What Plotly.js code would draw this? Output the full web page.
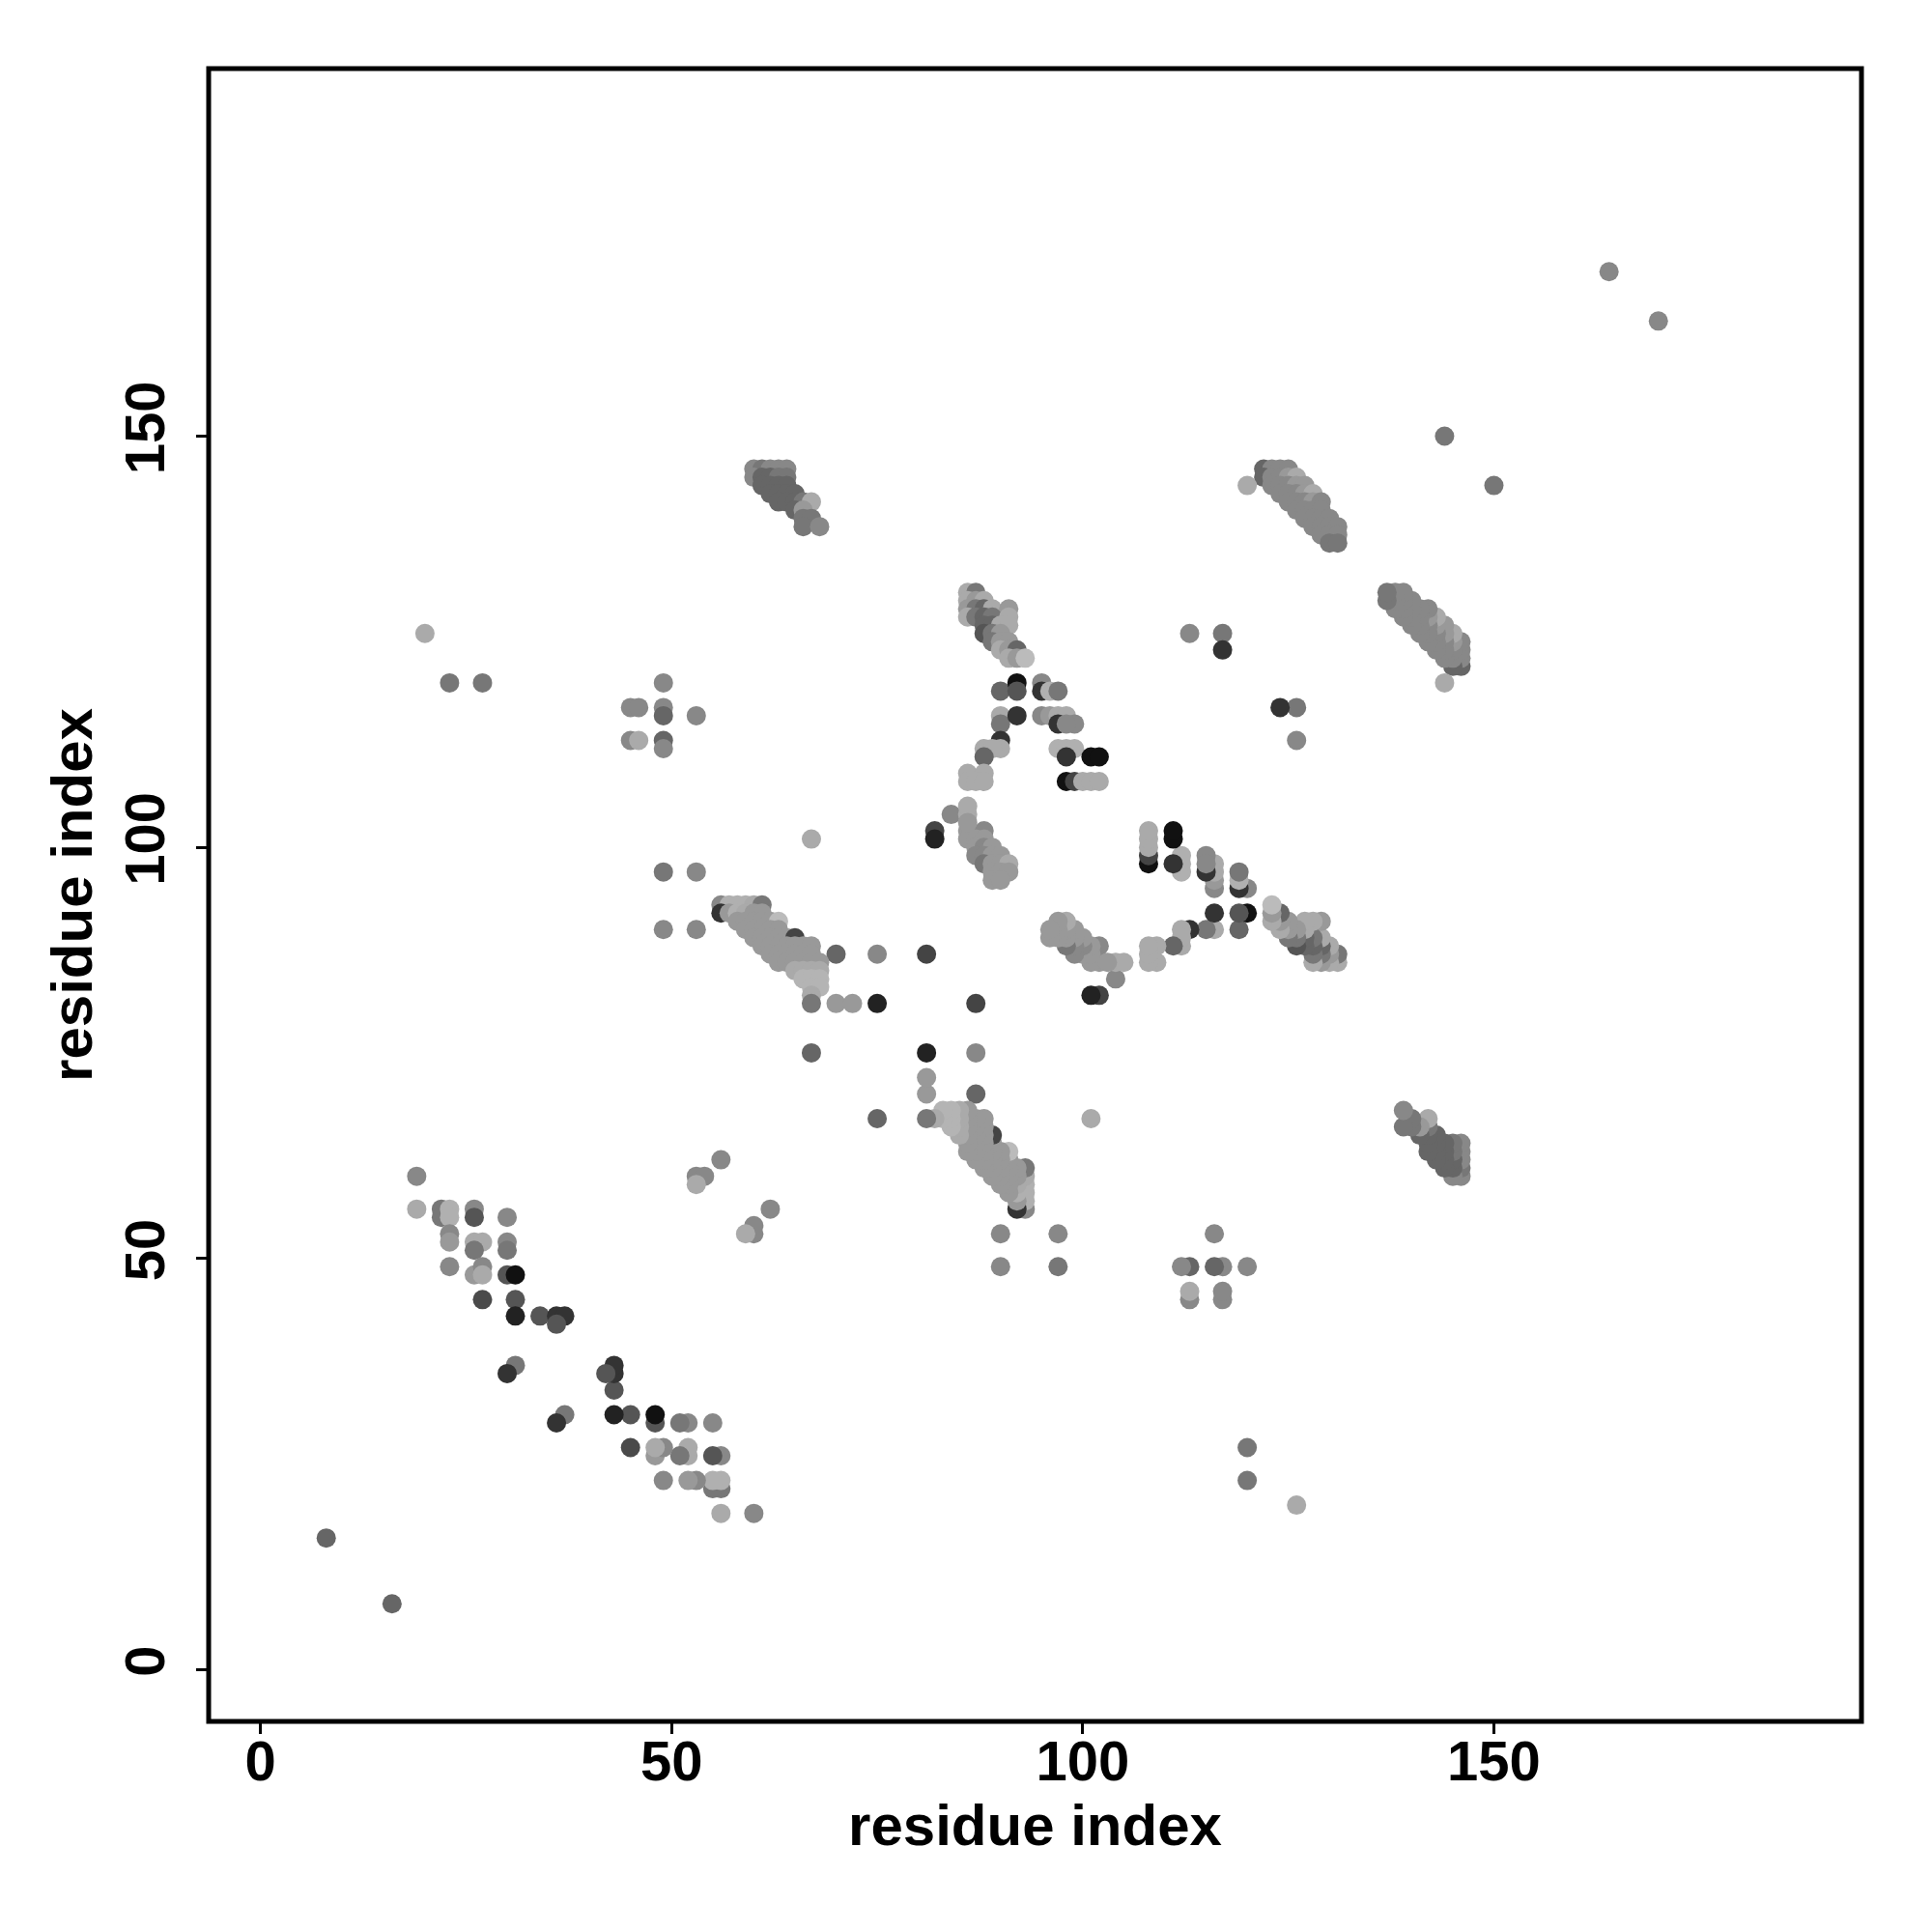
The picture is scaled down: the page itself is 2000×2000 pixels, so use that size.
<!DOCTYPE html>
<html>
<head>
<meta charset="utf-8">
<script src="https://cdn.plot.ly/plotly-3.0.1.min.js"></script>
<style>html,body{margin:0;padding:0;background:#fff;}#plot{width:2000px;height:2000px;}</style>
</head>
<body>
<div id="plot"></div>
<script>
// Contact map: residue pairs (i < j) and grey level of the dot (0 = black, 255 = white).
// The map is symmetric, so each pair is drawn at (i, j) and at (j, i).
var resI = [
  19,19,22,22,23,23,26,26,30,23,23,26,27,26,30,30,23,26,27,27,30,31,27,31,31,34,36,37,36,31,30,
  8,20,23,27,53,54,53,56,144,164,
  49,45,46,49,49,53,45,46,49,49,49,53,49,53,67,
  56,57,58,59,60,61,
  56,57,58,59,60,61,
  58,59,60,61,62,63,
  59,60,61,62,63,
  60,61,62,63,64,65,
  61,62,63,64,65,66,67,
  62,63,64,65,66,67,70,75,
  63,64,65,66,67,68,
  65,66,67,68,
  66,67,68,
  67,68,
  67,
  67,70,72,75,
  67,81,
  60,61,62,63,64,
  60,61,62,63,64,
  61,62,63,64,
  62,63,64,65,
  63,64,65,66,67,
  65,66,
  66,67,
  66,68,
  122,123,124,125,
  122,123,124,125,126,
  120,123,124,125,126,127,
  124,125,126,127,128,
  125,126,127,128,129,
  126,127,128,129,
  127,128,129,130,
  128,129,130,131,
  129,130,131,
  130,131,
  86,87,86,87,88,86,87,88,89,91,86,87,88,89,91,88,89,90,91,88,89,90,89,90,91,90,91,92,91,92,93,
  90,92,92,95,95,96,97,
  90,90,92,95,96,97,98,97,99,98,
  90,90,88,89,88,
  97,98,99,98,101,102,
  98,99,100,101,102,
  86,88,86,87,88,
  84,86,86,82,82,
  86,88,86,87,88,86,
  87,88,89,87,88,89,90,
  88,89,90,91,89,90,91,89,90,
  113,117,117
];
var resJ = [
  60,56,56,55,56,55,56,55,55,53,52,52,52,51,52,51,49,48,49,48,48,48,45,45,43,43,43,43,42,37,36,
  16,126,120,120,60,60,59,62,150,170,
  120,117,117,117,116,116,113,113,113,112,97,97,90,90,101,
  93,93,93,93,93,93,
  92,92,92,92,92,92,
  91,91,91,91,91,91,
  90,90,90,90,90,
  89,89,89,89,89,89,
  88,88,88,88,88,88,88,
  87,87,87,87,87,87,87,87,
  86,86,86,86,86,86,
  85,85,85,85,
  84,84,84,
  83,83,
  82,
  81,81,81,81,
  75,87,
  146,146,146,146,146,
  145,145,145,145,145,
  144,144,144,144,
  143,143,143,143,
  142,142,142,142,142,
  141,141,
  140,140,
  139,139,
  146,146,146,146,
  145,145,145,145,145,
  144,144,144,144,144,144,
  143,143,143,143,143,
  142,142,142,142,142,
  141,141,141,141,
  140,140,140,140,
  139,139,139,139,
  138,138,138,
  137,137,
  131,131,130,130,130,129,129,129,129,129,128,128,128,128,128,127,127,127,127,126,126,126,125,125,125,124,124,124,123,123,123,
  119,120,119,120,119,119,119,
  116,115,116,116,116,116,116,115,115,115,
  113,112,112,112,111,
  112,112,112,111,111,111,
  108,108,108,108,108,
  109,109,108,108,108,
  104,104,105,102,101,
  102,102,101,101,101,103,
  100,100,100,99,99,99,99,
  98,98,98,98,97,97,97,96,96,
  126,126,124
];
var shade = [
  136,170,119,119,176,176,136,85,136,136,153,170,170,119,136,119,136,153,136,170,85,17,74,85,34,85,51,51,85,119,51,
  102,170,119,119,136,136,170,136,119,136,
  136,136,136,136,102,136,136,170,102,136,119,136,136,136,170,
  136,176,176,176,170,119,
  51,153,176,170,153,153,
  153,153,153,153,153,187,
  153,153,153,153,153,
  153,153,153,153,153,68,
  153,153,153,153,153,153,153,
  153,153,153,153,153,153,102,136,
  153,153,153,153,153,153,
  170,170,170,170,
  180,180,180,
  180,180,
  170,
  119,153,153,34,
  102,68,
  136,119,136,136,136,
  136,102,102,119,119,
  102,102,102,102,
  102,102,102,102,
  102,102,102,119,170,
  102,153,
  119,119,
  119,136,
  102,136,136,136,
  102,136,136,153,170,
  170,136,136,136,153,153,
  136,136,136,153,170,
  136,136,136,153,136,
  136,136,136,136,
  136,136,136,136,
  136,136,136,136,
  136,136,136,
  119,119,
  170,119,170,153,170,153,119,102,170,153,170,119,102,119,170,102,102,170,170,85,119,153,119,153,153,170,153,102,170,153,187,
  102,17,85,136,51,176,119,
  170,119,51,136,153,170,170,51,136,136,
  51,170,170,170,102,
  176,176,176,51,17,17,
  17,68,170,170,170,
  170,170,170,170,170,
  136,170,170,68,34,
  153,136,153,153,153,153,
  153,136,153,136,136,153,153,
  119,153,153,170,153,153,153,153,153,
  136,119,51
];

var xs = [], ys = [], cols = [];
for (var k = 0; k < resI.length; k++) {
  var g = shade[k];
  var c = 'rgb(' + g + ',' + g + ',' + g + ')';
  xs.push(resJ[k]); ys.push(resI[k]); cols.push(c);
  xs.push(resI[k]); ys.push(resJ[k]); cols.push(c);
}

var tickVals = [0, 50, 100, 150];
var tickText = ['0', '50', '100', '150'];
var fontFam = 'Liberation Sans, Arial, Helvetica, sans-serif';

var trace = {
  type: 'scatter', mode: 'markers', x: xs, y: ys,
  marker: {size: 20, color: cols, line: {width: 0}},
  hoverinfo: 'x+y'
};

var axisCommon = {
  range: [-6.3, 194.7], showgrid: false, zeroline: false, showline: false,
  tickmode: 'array', tickvals: tickVals, ticktext: tickText,
  ticks: 'outside', ticklen: 12, tickwidth: 3, tickcolor: '#000',
  tickfont: {family: fontFam, size: 58, color: '#000', weight: 700},
  automargin: false
};

var layout = {
  width: 2000, height: 2000,
  margin: {l: 216, r: 73, t: 71, b: 218, pad: 0},
  paper_bgcolor: '#fff', plot_bgcolor: '#fff',
  showlegend: false,
  font: {family: fontFam, color: '#000'},
  xaxis: Object.assign({}, axisCommon, {
    ticklabelstandoff: -22,
    title: {text: 'residue index', font: {family: fontFam, size: 60, color: '#000', weight: 700}, standoff: 14}
  }),
  yaxis: Object.assign({}, axisCommon, {
    tickangle: -90, ticklabelstandoff: 10,
    title: {text: 'residue index', font: {family: fontFam, size: 60, color: '#000', weight: 700}, standoff: 1}
  }),
  shapes: [{type: 'rect', xref: 'paper', yref: 'paper', x0: 0, x1: 1, y0: 0, y1: 1,
            line: {color: '#000', width: 5}, fillcolor: 'rgba(0,0,0,0)', layer: 'above'}]
};

Plotly.newPlot('plot', [trace], layout, {displayModeBar: false, staticPlot: true});
</script>
</body>
</html>
